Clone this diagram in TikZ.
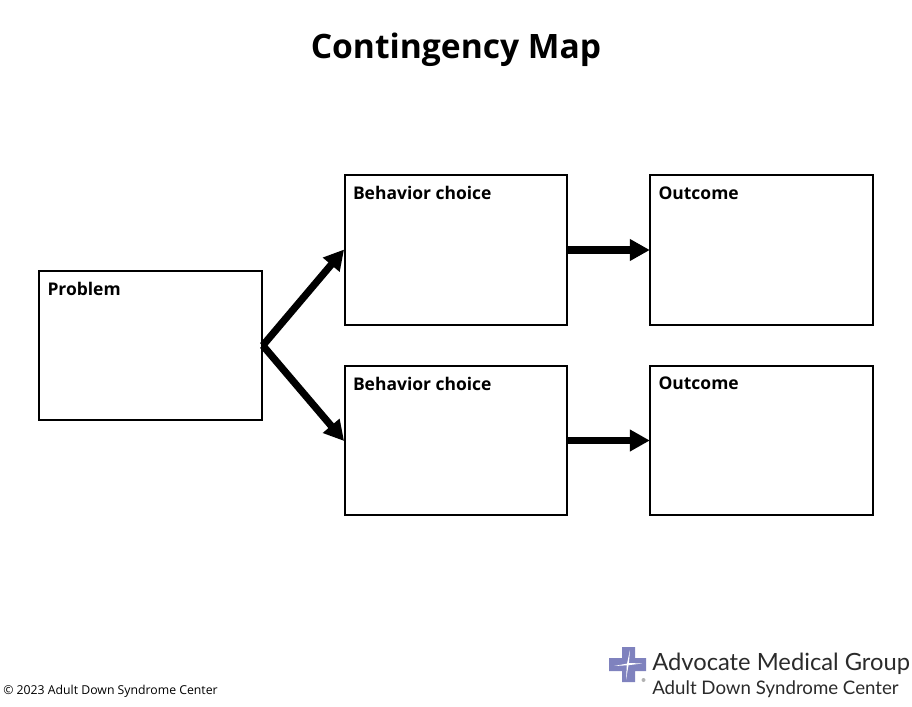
\documentclass[tikz,border=0pt]{standalone}
\usepackage{fontspec}
\setmainfont{Open Sans}
\newfontfamily\logofont{Lato}
\usepackage{tikz}
\usetikzlibrary{arrows.meta}

\definecolor{crossblue}{HTML}{7F82BE}
\definecolor{logotext}{HTML}{2B2B2B}

\tikzset{
    mapbox/.style={draw, line width=1.5pt, minimum width=167pt, minimum height=112pt, inner sep=0pt},
    boxlabel/.style={font=\fontsize{13.1}{16}\selectfont\bfseries, inner sep=0pt, anchor=north west, xshift=6.8pt, yshift=-9pt},
    maparrow/.style={line width=5.4pt, -{Triangle[length=15pt, width=15.5pt]}, shorten >=-0.5pt},
    logoline/.style={font=\logofont, text=logotext, inner sep=0pt, anchor=west}
}

\begin{document}
\begin{tikzpicture}[x=0.75pt, y=-0.75pt]

        \useasboundingbox (0,0) rectangle (912,706);

        \node[font=\fontsize{25.2}{30}\selectfont\bfseries] (title) at (456,50) {Contingency Map};

        \node[mapbox] (problem) at (150.5,345.5) {};
        \node[mapbox] (choiceone) at (456,250) {};
        \node[mapbox] (choicetwo) at (456,440.5) {};
        \node[mapbox] (outcomeone) at (761.5,250) {};
        \node[mapbox] (outcometwo) at (761.5,440.5) {};

        \node[boxlabel] (problemtext) at (problem.north west) {Problem};
        \node[boxlabel] (choiceonetext) at (choiceone.north west) {Behavior choice};
        \node[boxlabel] (choicetwotext) at (choicetwo.north west) {Behavior choice};
        \node[boxlabel] (outcomeonetext) at (outcomeone.north west) {Outcome};
        \node[boxlabel] (outcometwotext) at (outcometwo.north west) {Outcome};

        \draw[maparrow] (problem.east) -- (choiceone.west);
        \draw[maparrow] (problem.east) -- (choicetwo.west);
        \draw[maparrow] (choiceone.east) -- (outcomeone.west);
        \draw[maparrow] (choicetwo.east) -- (outcometwo.west);

        \node[font=\fontsize{9.2}{12}\selectfont, inner sep=0pt, anchor=west] (copyright) at (3,691) {© 2023 Adult Down Syndrome Center};

        % logo
        \fill[crossblue] (622,647) -- (635,647) -- (635,658) -- (646,658) -- (646,671) -- (635,671)
            -- (635,682) -- (622,682) -- (622,671) -- (609,671) -- (609,658) -- (622,658) -- cycle;
        \fill[white] (630,650) -- (628.9,663) -- (642,663.5) -- (628.5,665.2) -- (626,680) -- (626.8,665.3) -- (614,666) -- (627,663.6) -- cycle;
        \fill[gray!60] (643.5,680) circle (2);

        \node[logoline, font=\logofont\fontsize{17.8}{22}\selectfont] (logoname) at (652,663.5) {Advocate Medical Group};
        \node[logoline, font=\logofont\fontsize{14}{18}\selectfont] (logocenter) at (652,689) {Adult Down Syndrome Center};
    \end{tikzpicture}
\end{document}
